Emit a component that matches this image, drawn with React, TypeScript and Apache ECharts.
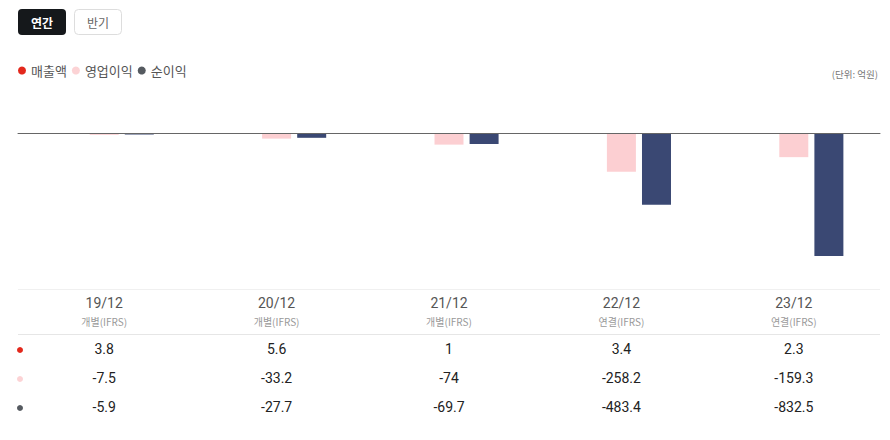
import React, { useEffect, useRef } from "react";
import * as echarts from "echarts";

const periods = ["19/12", "20/12", "21/12", "22/12", "23/12"];
const basis = ["개별(IFRS)", "개별(IFRS)", "개별(IFRS)", "연결(IFRS)", "연결(IFRS)"];
const seriesNames = ["매출액", "영업이익", "순이익"];
const revenue = [3.8, 5.6, 1, 3.4, 2.3];
const operatingProfit = [-7.5, -33.2, -74, -258.2, -159.3];
const netIncome = [-5.9, -27.7, -69.7, -483.4, -832.5];
const barColors = ["#e3281c", "#fccfd2", "#3a4873"];
const legendColors = ["#e3281c", "#fcd3d5", "#555a60"];
const unitLabel = "(단위: 억원)";
const buttons = ["연간", "반기"];

const FONT = "Noto Sans CJK KR, sans-serif";
const NUM_FONT = "Roboto, Noto Sans CJK KR, sans-serif";

export default function App() {
  const ref = useRef<HTMLDivElement>(null);
  useEffect(() => {
    const chart = echarts.init(ref.current!, null, { renderer: "svg" });
    const allSeries = [revenue, operatingProfit, netIncome];
    const tableLabels = periods.map(
      (p, i) =>
        `{c|${p}}\n{s|${basis[i]}}\n{v|${revenue[i]}}\n{v|${operatingProfit[i]}}\n{v|${netIncome[i]}}`
    );
    chart.setOption({
      animation: false,
      textStyle: { fontFamily: FONT },
      legend: {
        left: 13,
        top: 59,
        icon: "circle",
        itemWidth: 8,
        itemHeight: 8,
        itemGap: 5,
        textStyle: { color: "#555", fontSize: 13, fontFamily: FONT },
        data: seriesNames.map((n, i) => ({ name: n, itemStyle: { color: legendColors[i] } })),
      },
      grid: { left: 18, right: 10, top: 97, bottom: 174 },
      xAxis: [
        {
          type: "category",
          data: periods,
          z: 5,
          axisLine: { onZero: true, lineStyle: { color: "#666", width: 1 } },
          axisTick: { show: false },
          axisLabel: { show: false },
        },
        {
          type: "category",
          data: tableLabels,
          position: "bottom",
          axisLine: { show: false, onZero: false },
          axisTick: { show: false },
          axisLabel: {
            interval: 0,
            margin: 30,
            formatter: (v: string) => v,
            rich: {
              c: { fontSize: 14, color: "#555", lineHeight: 13, fontFamily: NUM_FONT },
              s: { fontSize: 10, color: "#999", lineHeight: 25, fontFamily: FONT },
              v: { fontSize: 14, color: "#222", lineHeight: 29, fontFamily: NUM_FONT },
            },
          },
        },
      ],
      yAxis: {
        type: "value",
        min: -900,
        max: 250,
        show: false,
        splitLine: { show: false },
      },
      series: seriesNames.map((n, i) => ({
        name: n,
        type: "bar",
        xAxisIndex: 0,
        data: allSeries[i],
        barWidth: 29,
        barGap: "21%",
        itemStyle: { color: barColors[i] },
      })),
      graphic: [
        {
          type: "rect",
          shape: { x: 18, y: 9, width: 48, height: 26, r: 4 },
          style: { fill: "#15181b" },
        },
        {
          type: "text",
          x: 42,
          y: 22,
          style: { text: buttons[0], fill: "#fff", fontSize: 12, fontWeight: "bold", align: "center", verticalAlign: "middle", fontFamily: FONT },
        },
        {
          type: "rect",
          shape: { x: 74.5, y: 9.5, width: 47, height: 25, r: 4 },
          style: { fill: "#fff", stroke: "#dddddd", lineWidth: 1 },
        },
        {
          type: "text",
          x: 98,
          y: 22,
          style: { text: buttons[1], fill: "#666", fontSize: 12, align: "center", verticalAlign: "middle", fontFamily: FONT },
        },
        {
          type: "text",
          x: 878,
          y: 74,
          style: { text: unitLabel, fill: "#777", fontSize: 9.5, align: "right", verticalAlign: "middle", fontFamily: FONT },
        },
        {
          type: "line",
          shape: { x1: 18, y1: 289.5, x2: 880, y2: 289.5 },
          style: { stroke: "#f0f0f0", lineWidth: 1 },
        },
        {
          type: "line",
          shape: { x1: 18, y1: 334.5, x2: 880, y2: 334.5 },
          style: { stroke: "#e6e6e6", lineWidth: 1 },
        },
        ...legendColors.map((c, i) => ({
          type: "circle",
          shape: { cx: 20, cy: 350 + i * 29, r: 3 },
          style: { fill: c },
        })),
      ],
    });
    return () => chart.dispose();
  }, []);
  return (
    <div
      ref={ref}
      style={{ position: "fixed", left: 0, top: 0, width: 890, height: 440, background: "#fff" }}
    />
  );
}
